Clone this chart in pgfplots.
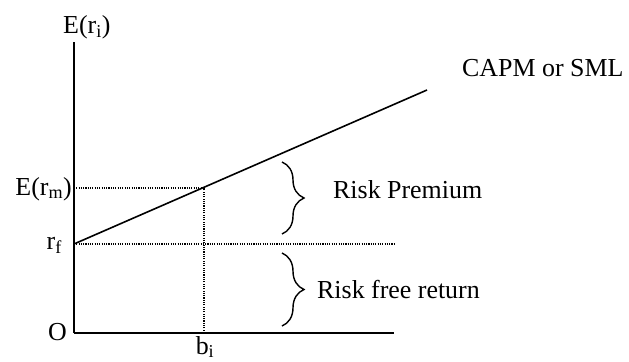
\documentclass[border=0pt]{standalone}
\usepackage{fontspec}
\setmainfont{Liberation Serif}
\usepackage{pgfplots}
\pgfplotsset{compat=1.18}
\usetikzlibrary{decorations.pathreplacing}

\begin{document}
\begin{tikzpicture}[font=\fontsize{26}{30}\selectfont]
\begin{axis}[
    width=320bp, height=291bp,
    scale only axis,
    xmin=0, xmax=320, ymin=0, ymax=291,
    axis x line=bottom, axis y line=left,
    axis line style={-, line width=1.8bp},
    xtick=\empty, ytick=\empty,
    clip=false,
]
% security market line
\addplot[black, line width=1.6bp] coordinates {(0,89) (353,243)};
% guides
\addplot[black, line width=1.1bp, dash pattern=on 1.1bp off 1.2bp] coordinates {(0,89) (320,89)};
\addplot[black, line width=1.1bp, dash pattern=on 1.1bp off 1.2bp] coordinates {(0,145) (130,145)};
\addplot[black, line width=1.1bp, dash pattern=on 1.1bp off 1.2bp] coordinates {(130,0) (130,145)};

% braces
\draw[line width=1.4bp, decorate, decoration={brace, amplitude=22bp}]
    (axis cs:208,171) -- (axis cs:208,99);
\draw[line width=1.4bp, decorate, decoration={brace, amplitude=22bp}]
    (axis cs:208,80) -- (axis cs:208,7);

% labels
\node[anchor=base west, inner sep=0] at (axis cs:-11,299) {E(r\textsubscript{i})};
\node[anchor=base east, inner sep=0] at (axis cs:-2,138) {E(r\textsubscript{m})};
\node[anchor=base east, inner sep=0] at (axis cs:-12,84) {r\textsubscript{f}};
\node[anchor=base east, inner sep=0] at (axis cs:-7,-7) {O};
\node[anchor=base, inner sep=0] at (axis cs:131,-21) {b\textsubscript{i}};
\node[anchor=base west, inner sep=0] at (axis cs:259,135) {Risk Premium};
\node[anchor=base west, inner sep=0] at (axis cs:243,35) {Risk free return};
\node[anchor=base west, inner sep=0] at (axis cs:388,256) {CAPM or SML};

\coordinate (bl) at (axis cs:-74,-28);
\coordinate (tr) at (axis cs:555,333);
\end{axis}
\pgfresetboundingbox
\useasboundingbox (bl) rectangle (tr);
\end{tikzpicture}
\end{document}
